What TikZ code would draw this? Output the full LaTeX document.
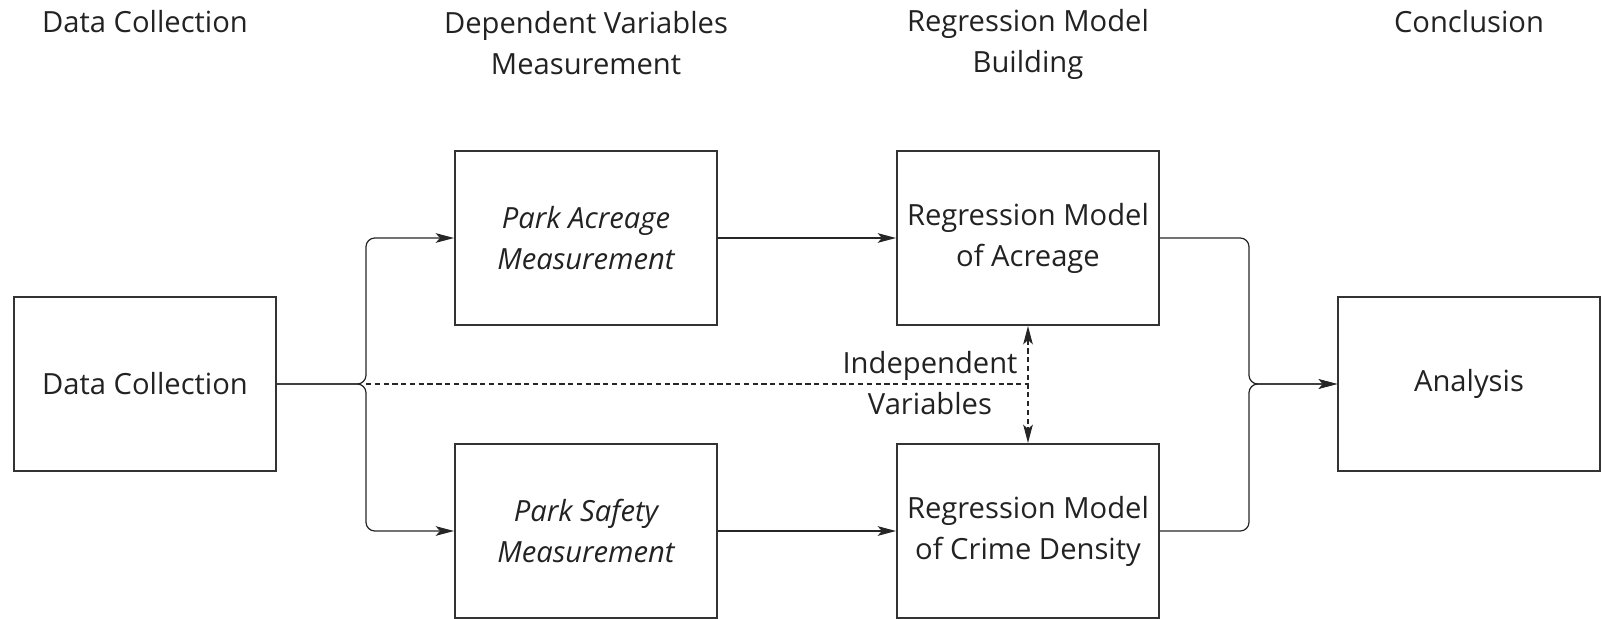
\documentclass[tikz,border=0pt]{standalone}
\usepackage{fontspec}
\setmainfont{Open Sans}
\usetikzlibrary{arrows.meta}
\definecolor{boxgray}{HTML}{333333}
\definecolor{txtgray}{HTML}{222222}
\begin{document}
\begin{tikzpicture}[x=0.02cm, y=-0.02cm,
  box/.style={draw=boxgray, line width=1.1pt, minimum width=5.24cm, minimum height=3.48cm, align=center, text=txtgray, font=\fontsize{16.6}{23.3}\selectfont},
  hd/.style={align=center, text=txtgray, font=\fontsize{16.6}{23.3}\selectfont},
  tip/.style={Stealth[length=10.5pt, width=5.5pt, inset=2.5pt]},
  arr/.style={-{Stealth[length=10.5pt, width=5.5pt, inset=2.5pt]}, line width=0.7pt, draw=black!85},
  ln/.style={line width=0.7pt, draw=black!85, rounded corners=5pt},
  dsh/.style={dash pattern=on 3pt off 2pt, line width=0.7pt, draw=black!85}]
\useasboundingbox (0,0) rectangle (1614,619);
% column headers
\node[hd] (h1) at (145,22)   {Data Collection};
\node[hd] (h2) at (586,43)   {Dependent Variables\\Measurement};
\node[hd] (h3) at (1028,44)  {Regression Model\\Building};
\node[hd] (h4) at (1469,22)  {Conclusion};
% boxes
\node[box] (dc) at (145,384)  {Data Collection};
\node[box] (pa) at (586,238)  {\itshape Park Acreage\\\itshape Measurement};
\node[box] (ps) at (586,531)  {\itshape Park Safety\\\itshape Measurement};
\node[box] (ra) at (1028,238) {Regression Model\\of Acreage};
\node[box] (rc) at (1028,531) {Regression Model\\of Crime Density};
\node[box] (an) at (1469,384) {Analysis};
% split and merge points
\coordinate (sp) at (366,384);
\coordinate (mg) at (1249,384);
\coordinate (iv) at (sp -| ra.south);
\draw[arr, ln] (dc.east) -- (sp) |- (pa.west);
\draw[arr, ln] (dc.east) -- (sp) |- (ps.west);
\draw[arr] (pa) -- (ra);
\draw[arr] (ps) -- (rc);
\draw[arr, ln] (ra.east) -| (mg) -- (an.west);
\draw[arr, ln] (rc.east) -| (mg) -- (an.west);
% independent variables
\draw[dsh] (sp) -- (iv);
\draw[dsh, {Stealth[length=10.5pt, width=5.5pt, inset=2.5pt]}-{Stealth[length=10.5pt, width=5.5pt, inset=2.5pt]}] (ra.south) -- (rc.north);
\node[hd] (ivl) at (930,383) {Independent\\Variables};
\end{tikzpicture}
\end{document}
